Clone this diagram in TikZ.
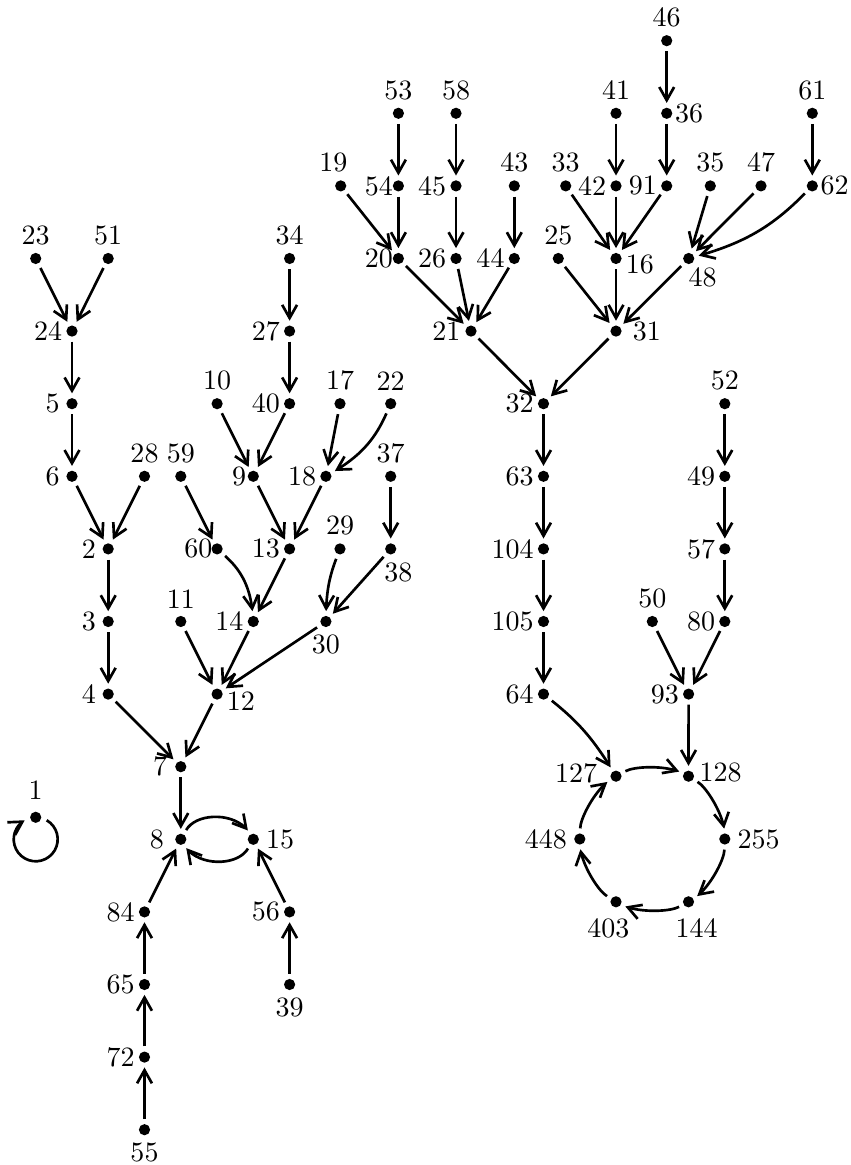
\documentclass[tikz,border=0pt]{standalone}
\usetikzlibrary{arrows.meta,bending}
\begin{document}
\begin{tikzpicture}[x=0.357pt,y=0.357pt,
  dot/.style={circle,fill,inner sep=0pt,minimum size=4pt},
  every label/.style={inner xsep=1.1pt,inner ysep=2.4pt},
  tip/.style={-{Straight Barb[length=4.7pt,width=5.3pt,flex]}},
  arr/.style={line width=0.95pt,tip,shorten <=1.6pt,shorten >=1.5pt}]
\useasboundingbox (0,0) rectangle (850,-1165);
% ---- left component
\node[dot,label={[label distance=1.6pt]above:1}] (n1) at (35.7,-817.3) {};
\coordinate (c1) at (35.7,-839.3);
\node[dot,label=above:23] (n23) at (35.7,-258.5) {};
\node[dot,label=above:51] (n51) at (108.2,-258.5) {};
\node[dot,label=left:24] (n24) at (72,-331.1) {};
\node[dot,label={[label distance=0.9pt]left:5}] (n5) at (72,-403.7) {};
\node[dot,label={[label distance=0.9pt]left:6}] (n6) at (72,-476.3) {};
\node[dot,label=above:28] (n28) at (144.5,-476.3) {};
\node[dot,label={[label distance=0.9pt]left:2}] (n2) at (108.2,-548.9) {};
\node[dot,label={[label distance=0.9pt]left:3}] (n3) at (108.2,-621.5) {};
\node[dot,label={[label distance=0.9pt]left:4}] (n4) at (108.2,-694.1) {};
\node[dot,label=above:59] (n59) at (180.8,-476.3) {};
\node[dot,label={[label distance=-1.8pt]left:60}] (n60) at (217.1,-548.9) {};
\node[dot,label=above:10] (n10) at (217.1,-403.7) {};
\node[dot,label=above:34] (n34) at (289.6,-258.5) {};
\node[dot,label=left:27] (n27) at (289.6,-331.1) {};
\node[dot,label=left:40] (n40) at (289.6,-403.7) {};
\node[dot,label={[label distance=-0.9pt]left:9}] (n9) at (253.3,-476.3) {};
\node[dot,label=above:17] (n17) at (340,-403.7) {};
\node[dot,label=above:22] (n22) at (390.7,-403.7) {};
\node[dot,label=left:18] (n18) at (325.9,-476.3) {};
\node[dot,label=left:13] (n13) at (289.6,-548.9) {};
\node[dot,label=above:37] (n37) at (390.7,-476.3) {};
\node[dot,label={[xshift=2.7pt]below:38}] (n38) at (390.7,-548.9) {};
\node[dot,label=above:29] (n29) at (340,-548.9) {};
\node[dot,label=below:30] (n30) at (325.9,-621.5) {};
\node[dot,label=left:14] (n14) at (253.3,-621.5) {};
\node[dot,label=above:11] (n11) at (180.8,-621.5) {};
\node[dot,label={[yshift=-2.5pt]right:12}] (n12) at (217.1,-694.1) {};
\node[dot,label={[label distance=1.35pt]left:7}] (n7) at (180.8,-766.7) {};
\node[dot,label={[label distance=2.5pt]left:8}] (n8) at (180.8,-839.3) {};
\node[dot,label={[label distance=1.1pt]right:15}] (n15) at (253.3,-839.3) {};
\node[dot,label=left:84] (n84) at (144.5,-911.9) {};
\node[dot,label=left:65] (n65) at (144.5,-984.5) {};
\node[dot,label=left:72] (n72) at (144.5,-1057.1) {};
\node[dot,label=below:55] (n55) at (144.5,-1129.7) {};
\node[dot,label=left:56] (n56) at (289.6,-911.9) {};
\node[dot,label=below:39] (n39) at (289.6,-984.5) {};
% ---- right component
\node[dot,label=above:53] (n53) at (398.4,-113.3) {};
\node[dot,label=above:58] (n58) at (456,-113.3) {};
\node[dot,label={[xshift=-2.6pt]above:19}] (n19) at (340.7,-185.9) {};
\node[dot,label={[label distance=-1.5pt]left:54}] (n54) at (398.4,-185.9) {};
\node[dot,label=left:45] (n45) at (456,-185.9) {};
\node[dot,label=above:43] (n43) at (514.3,-185.9) {};
\node[dot,label={[label distance=-1.5pt]left:20}] (n20) at (398.4,-258.5) {};
\node[dot,label=left:26] (n26) at (456,-258.5) {};
\node[dot,label=left:44] (n44) at (514.3,-258.5) {};
\node[dot,label={[label distance=0.3pt]left:21}] (n21) at (471,-331.1) {};
\node[dot,label=above:46] (n46) at (666.7,-40.7) {};
\node[dot,label=above:41] (n41) at (616,-113.3) {};
\node[dot,label={[label distance=-0.5pt]right:36}] (n36) at (666.7,-113.3) {};
\node[dot,label=above:61] (n61) at (812.3,-113.3) {};
\node[dot,label=above:33] (n33) at (565.7,-185.9) {};
\node[dot,label=left:42] (n42) at (616,-185.9) {};
\node[dot,label=left:91] (n91) at (666.7,-185.9) {};
\node[dot,label=above:35] (n35) at (710.3,-185.9) {};
\node[dot,label=above:47] (n47) at (761,-185.9) {};
\node[dot,label={[label distance=-0.5pt]right:62}] (n62) at (812.3,-185.9) {};
\node[dot,label=above:25] (n25) at (558.3,-258.5) {};
\node[dot,label={[yshift=-2.25pt]right:16}] (n16) at (616,-258.5) {};
\node[dot,label={[xshift=5pt,label distance=-1.5pt]below:48}] (n48) at (688.7,-258.5) {};
\node[dot,label={[label distance=2.5pt]right:31}] (n31) at (616,-331.1) {};
\node[dot,label=left:32] (n32) at (543.5,-403.7) {};
\node[dot,label=left:63] (n63) at (543.5,-476.3) {};
\node[dot,label=left:104] (n104) at (543.5,-548.9) {};
\node[dot,label=left:105] (n105) at (543.5,-621.5) {};
\node[dot,label=left:64] (n64) at (543.5,-694.1) {};
\node[dot,label=above:52] (n52) at (724.8,-403.7) {};
\node[dot,label=left:49] (n49) at (724.8,-476.3) {};
\node[dot,label=left:57] (n57) at (724.8,-548.9) {};
\node[dot,label=left:80] (n80) at (724.8,-621.5) {};
\node[dot,label=above:50] (n50) at (652.3,-621.5) {};
\node[dot,label=left:93] (n93) at (688.6,-694.1) {};
\node[dot,label={[label distance=3.2pt,yshift=1.2pt]left:127}] (n127) at (616,-776.2) {};
\node[dot,label={[label distance=0.5pt,yshift=1.2pt]right:128}] (n128) at (688.5,-776.2) {};
\node[dot,label={[label distance=1.1pt]right:255}] (n255) at (724.8,-839) {};
\node[dot,label={[label distance=1.1pt,xshift=2.9pt]below:144}] (n144) at (688.5,-901.8) {};
\node[dot,label={[label distance=1.3pt,xshift=-2.75pt]below:403}] (n403) at (616,-901.8) {};
\node[dot,label={[label distance=1.1pt]left:448}] (n448) at (579.8,-839) {};
% ---- edges, left
\draw[line width=0.95pt,tip] ([shift={(60:7.85pt)}]c1) arc[start angle=60,end angle=-240,radius=7.85pt];
\draw[arr] (n23) -- (n24);
\draw[arr] (n51) -- (n24);
\draw[arr] (n24) -- (n5);
\draw[arr] (n5) -- (n6);
\draw[arr] (n6) -- (n2);
\draw[arr] (n28) -- (n2);
\draw[arr] (n2) -- (n3);
\draw[arr] (n3) -- (n4);
\draw[arr] (n4) -- (n7);
\draw[arr] (n12) -- (n7);
\draw[arr] (n7) -- (n8);
\draw[arr] (n8) to[bend left=60] (n15);
\draw[arr] (n15) to[bend left=60] (n8);
\draw[arr] (n84) -- (n8);
\draw[arr] (n56) -- (n15);
\draw[arr] (n65) -- (n84);
\draw[arr] (n72) -- (n65);
\draw[arr] (n55) -- (n72);
\draw[arr] (n39) -- (n56);
\draw[arr] (n34) -- (n27);
\draw[arr] (n27) -- (n40);
\draw[arr] (n10) -- (n9);
\draw[arr] (n40) -- (n9);
\draw[arr] (n17) -- (n18);
\draw[arr] (n22) to[bend left=18] (n18);
\draw[arr] (n9) -- (n13);
\draw[arr] (n18) -- (n13);
\draw[arr] (n59) -- (n60);
\draw[arr] (n60) to[bend left=22] (n14);
\draw[arr] (n13) -- (n14);
\draw[arr] (n37) -- (n38);
\draw[arr] (n29) to[bend right=10] (n30);
\draw[arr] (n38) -- (n30);
\draw[arr] (n11) -- (n12);
\draw[arr] (n14) -- (n12);
\draw[arr] (n30) -- (n12);
% ---- edges, right
\draw[arr] (n53) -- (n54);
\draw[arr] (n58) -- (n45);
\draw[arr] (n19) -- (n20);
\draw[arr] (n54) -- (n20);
\draw[arr] (n45) -- (n26);
\draw[arr] (n43) -- (n44);
\draw[arr] (n20) -- (n21);
\draw[arr] (n26) -- (n21);
\draw[arr] (n44) -- (n21);
\draw[arr] (n46) -- (n36);
\draw[arr] (n41) -- (n42);
\draw[arr] (n36) -- (n91);
\draw[arr] (n33) -- (n16);
\draw[arr] (n42) -- (n16);
\draw[arr] (n91) -- (n16);
\draw[arr] (n25) -- (n31);
\draw[arr] (n16) -- (n31);
\draw[arr] (n48) -- (n31);
\draw[arr] (n35) -- (n48);
\draw[arr] (n47) -- (n48);
\draw[arr] (n61) -- (n62);
\draw[arr] (n62) to[bend left=15] (n48);
\draw[arr] (n21) -- (n32);
\draw[arr] (n31) -- (n32);
\draw[arr] (n32) -- (n63);
\draw[arr] (n63) -- (n104);
\draw[arr] (n104) -- (n105);
\draw[arr] (n105) -- (n64);
\draw[arr] (n64) to[bend left=10] (n127);
\draw[arr] (n52) -- (n49);
\draw[arr] (n49) -- (n57);
\draw[arr] (n57) -- (n80);
\draw[arr] (n50) -- (n93);
\draw[arr] (n80) -- (n93);
\draw[arr] (n93) -- (n128);
\draw[arr] (n127) to[bend left=28,looseness=0.7] (n128);
\draw[arr] (n128) to[bend left=28,looseness=0.7] (n255);
\draw[arr] (n255) to[bend left=28,looseness=0.7] (n144);
\draw[arr] (n144) to[bend left=28,looseness=0.7] (n403);
\draw[arr] (n403) to[bend left=28,looseness=0.7] (n448);
\draw[arr] (n448) to[bend left=28,looseness=0.7] (n127);
\end{tikzpicture}
\end{document}
